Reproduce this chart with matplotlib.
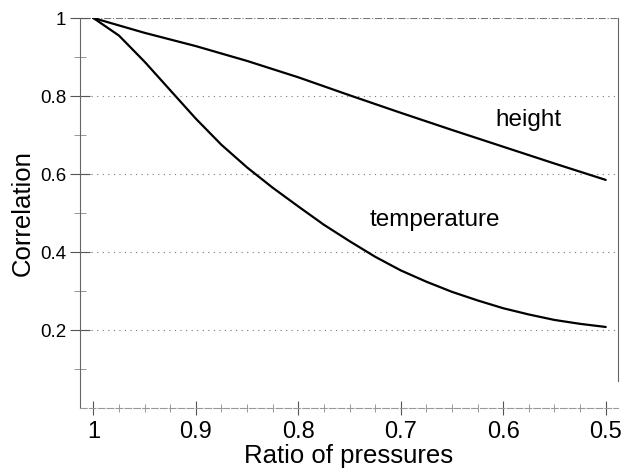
import matplotlib
matplotlib.use("Agg")
import matplotlib.pyplot as plt
from matplotlib.ticker import MultipleLocator, FixedLocator

plt.rcParams['font.family'] = ['Liberation Sans', 'DejaVu Sans']

# Data
ratio_height = [1.0, 0.95, 0.9, 0.85, 0.8, 0.75, 0.7, 0.65, 0.6, 0.55, 0.5]
corr_height = [1.0, 0.962, 0.928, 0.89, 0.848, 0.802, 0.757, 0.713, 0.67, 0.627, 0.585]

ratio_temp = [1.0, 0.975, 0.95, 0.925, 0.9, 0.875, 0.85, 0.825, 0.8, 0.775, 0.75,
              0.725, 0.7, 0.675, 0.65, 0.625, 0.6, 0.575, 0.55, 0.525, 0.5]
corr_temp = [1.0, 0.955, 0.888, 0.815, 0.742, 0.675, 0.617, 0.565, 0.517, 0.47, 0.428,
             0.388, 0.353, 0.324, 0.298, 0.276, 0.256, 0.24, 0.226, 0.216, 0.208]

x_ticks = [1.0, 0.9, 0.8, 0.7, 0.6, 0.5]
x_ticklabels = ["1", "0.9", "0.8", "0.7", "0.6", "0.5"]
y_ticks = [0.2, 0.4, 0.6, 0.8, 1.0]
y_ticklabels = ["0.2", "0.4", "0.6", "0.8", "1"]

fig = plt.figure(figsize=(6.3, 4.74), dpi=100)
ax = fig.add_axes([0.127, 0.139, 0.854, 0.823])

ax.plot(ratio_height, corr_height, color='black', lw=1.6, solid_capstyle='round')
ax.plot(ratio_temp, corr_temp, color='black', lw=1.6, solid_capstyle='round')

ax.text(0.575, 0.738, "height", fontsize=17.5, ha='center', va='center')
ax.text(0.667, 0.482, "temperature", fontsize=17.5, ha='center', va='center')

ax.set_xlim(1.013, 0.488)
ax.set_ylim(0, 1)

ax.set_xticks(x_ticks)
ax.set_xticklabels(x_ticklabels, fontsize=17)
ax.set_yticks(y_ticks)
ax.set_yticklabels(y_ticklabels, fontsize=13.5)
ax.xaxis.set_minor_locator(MultipleLocator(0.025))
ax.yaxis.set_minor_locator(FixedLocator([0.1, 0.3, 0.5, 0.7, 0.9]))

ax.tick_params(axis='x', which='major', direction='inout', length=10, width=0.8, color='#555555', pad=4)
ax.tick_params(axis='x', which='minor', direction='inout', length=6, width=0.6, color='#888888')
ax.tick_params(axis='y', which='major', direction='inout', length=14, width=0.8, color='#555555', pad=3)
ax.tick_params(axis='y', which='minor', direction='inout', length=8, width=0.6, color='#888888')
ax.tick_params(top=False, right=False)

for y in [0.2, 0.4, 0.6, 0.8]:
    ax.axhline(y, color='#777777', lw=0.8, ls=(0, (1, 4)), zorder=0)
ax.axhline(1.0, color='#777777', lw=0.8, ls='-.', zorder=0)

ax.spines['top'].set_visible(False)
ax.spines['left'].set_color('#666666')
ax.spines['left'].set_linewidth(0.8)
ax.spines['right'].set_color('#666666')
ax.spines['right'].set_linewidth(0.8)
ax.spines['right'].set_bounds(0.07, 1.0)
ax.spines['bottom'].set_color('#999999')
ax.spines['bottom'].set_linewidth(0.8)
ax.spines['bottom'].set_linestyle((0, (6, 2)))

ax.set_xlabel("Ratio of pressures", fontsize=18.5, labelpad=1)
ax.set_ylabel("Correlation", fontsize=18.5, labelpad=4)

fig.savefig("out.png", dpi=100)
